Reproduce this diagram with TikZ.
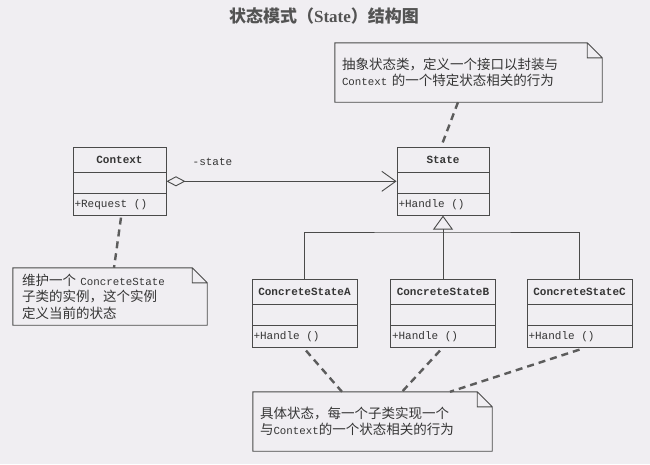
\documentclass[tikz,border=0pt]{standalone}
\usepackage{fontspec}
\setmainfont{Liberation Serif}
\setmonofont{Liberation Mono}
\newfontfamily\cjk{Noto Sans CJK SC}
\usetikzlibrary{arrows.meta,shapes.multipart,calc}
\definecolor{pageBg}{HTML}{F0EEF2}
\definecolor{lineGray}{HTML}{4A4A4A}
\definecolor{textGray}{HTML}{353535}
\newcommand{\umlcls}[2]{\rule[-8pt]{0pt}{24pt}\textbf{#1}\nodepart{two}\nodepart{three}\rule[-7pt]{0pt}{21pt}#2}
\newcommand{\mn}{\ttfamily\fontsize{10.8}{16.5}\selectfont}
\tikzset{
  clase/.style={draw=lineGray, line width=0.9pt, rectangle split, rectangle split parts=3, rectangle split part align={center,left,left}, rectangle split empty part height=20pt, inner xsep=1.5pt, inner ysep=0pt, minimum width=#1, anchor=north, text=textGray, font=\ttfamily\fontsize{11}{12}\selectfont},
  nota/.style={inner xsep=7pt, inner ysep=0pt, minimum height=#1, align=left, text=textGray, font=\cjk\fontsize{13.5}{16.5}\selectfont},
  notalinea/.style={draw=lineGray, line width=0.9pt},
  titulo/.style={text=textGray!85, font=\cjk\bfseries\fontsize{17}{20}\selectfont},
  arragg/.style={draw=lineGray, line width=0.9pt, {Diamond[open, length=19pt, width=10pt]}-{Straight Barb[length=14pt, width=20pt]}},
  arrgen/.style={draw=lineGray, line width=0.9pt, -{Triangle[open, length=14pt, width=20pt]}},
  linea/.style={draw=lineGray, line width=0.9pt},
  enlace/.style={draw=lineGray!90, line width=2.4pt, dash pattern=on 7pt off 5pt},
}
\begin{document}
\begin{tikzpicture}[x=1pt, y=-1pt]
\fill[pageBg] (0,0) rectangle (650,464);

\node[titulo] (titulo) at (324,16) {状态模式（{\rmfamily State}）结构图};

\node[clase=93pt] (context) at (119.5,147) {\umlcls{Context}{+Request ()}};
\node[clase=92pt] (state) at (443,147) {\umlcls{State}{+Handle ()}};
\node[clase=105pt] (csA) at (304.5,279) {\umlcls{ConcreteStateA}{+Handle ()}};
\node[clase=105pt] (csB) at (443,279) {\umlcls{ConcreteStateB}{+Handle ()}};
\node[clase=105pt] (csC) at (579.5,279) {\umlcls{ConcreteStateC}{+Handle ()}};

\node[nota=59pt, text width=253pt] (nState) at (468.5,72.5) {抽象状态类，定义一个接口以封装与\\{\mn Context} 的一个特定状态相关的行为};
\node[nota=57pt, inner xsep=9pt, text width=176pt] (nContext) at (110,296.5) {维护一个 {\mn ConcreteState}\\子类的实例，这个实例\\定义当前的状态};
\node[nota=59pt, text width=225pt] (nConcrete) at (372.5,421.5) {具体状态，每一个子类实现一个\\与{\mn Context}的一个状态相关的行为};

\foreach \n in {nState,nContext,nConcrete}
  \draw[notalinea] (\n.north west) -- ([xshift=-15pt]\n.north east) -- ([yshift=-15pt]\n.north east) -- (\n.south east) -- (\n.south west) -- cycle
    ([xshift=-15pt]\n.north east) |- ([yshift=-15pt]\n.north east);

\draw[arragg] (context.east) -- node[pos=0.2, above=15pt, inner sep=0pt, text=textGray, font=\ttfamily\fontsize{11}{12}\selectfont] (lblstate) {-state} (state.west);

\coordinate (bus) at (443,232);
\draw[linea] (csA.north) |- (bus) -| (csC.north);
\draw[arrgen] (csB.north) -- (state.south);

\draw[enlace] ([xshift=-10.5pt]nState.south) -- ([xshift=-2pt]state.north);
\draw[enlace] ([xshift=1.5pt,yshift=-2pt]context.south) -- ([xshift=4pt]nContext.north);
\draw[enlace] ([xshift=1.5pt,yshift=-3pt]csA.south) -- ([xshift=-30.5pt]nConcrete.north);
\draw[enlace] ([xshift=-3pt,yshift=-3pt]csB.south) -- ([xshift=29.5pt]nConcrete.north);
\draw[enlace] ([yshift=-2pt]csC.south) -- ([xshift=77.5pt]nConcrete.north);
\end{tikzpicture}
\end{document}
